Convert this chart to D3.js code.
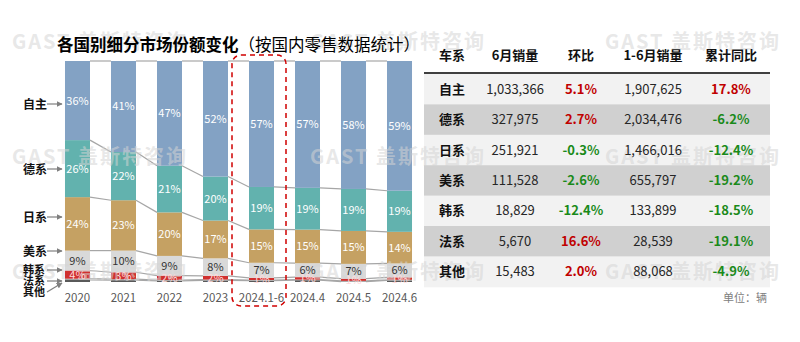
<!DOCTYPE html>
<html><head><meta charset="utf-8">
<script src="https://cdn.jsdelivr.net/npm/d3@7/dist/d3.min.js"></script>
<style>
html,body{margin:0;padding:0;background:#fff;}
svg{display:block;font-family:"Noto Sans CJK SC","Noto Sans",sans-serif;}
</style></head>
<body>
<svg id="chart" width="800" height="342"></svg>
<script>
// ---------- data ----------
const categories = ["2020","2021","2022","2023","2024.1-6","2024.4","2024.5","2024.6"];
const seriesNames = ["自主","德系","日系","美系","韩系","法系","其他"];
const shareZizhu = [35.8, 41.2, 47.4, 52.3, 57.0, 57.4, 57.9, 58.7];
const shareDe    = [25.8, 21.8, 21.1, 19.9, 19.2, 18.9, 19.0, 18.6];
const shareRi    = [24.2, 22.8, 19.7, 17.1, 15.1, 15.2, 14.9, 14.3];
const shareMei   = [9.0, 9.8, 8.9, 7.9, 6.8, 6.3, 6.7, 6.3];
const shareHan   = [3.7, 3.1, 2.0, 1.7, 1.0, 1.1, 1.0, 1.1];
const shareFa    = [0.6, 0.5, 0.4, 0.4, 0.3, 0.3, 0.3, 0.3];
const shareQita  = [0.9, 0.8, 0.5, 0.7, 0.6, 0.8, 0.2, 0.7];

const tableHeaders = ["车系","6月销量","环比","1-6月销量","累计同比"];
const tableRows = ["自主","德系","日系","美系","韩系","法系","其他"];
const juneSales = [1033366, 327975, 251921, 111528, 18829, 5670, 15483];
const momChange = [5.1, 2.7, -0.3, -2.6, -12.4, 16.6, 2.0];
const ytdSales  = [1907625, 2034476, 1466016, 655797, 133899, 28539, 88068];
const yoyChange = [17.8, -6.2, -12.4, -19.2, -18.5, -19.1, -4.9];

// ---------- setup ----------
const svg = d3.select("#chart");
const gBack = svg.append("g");
const gWM = svg.append("g").attr("pointer-events","none");
const gFront = svg.append("g");

const seriesValues = {"自主":shareZizhu,"德系":shareDe,"日系":shareRi,"美系":shareMei,"韩系":shareHan,"法系":shareFa,"其他":shareQita};
const colors = {"自主":"#83a2c4","德系":"#62b2ae","日系":"#c5a163","美系":"#d9d9d9","韩系":"#d0302f","法系":"#a6a6a6","其他":"#595959"};
const labelColors = {"自主":"#ffffff","德系":"#ffffff","日系":"#ffffff","美系":"#333333","韩系":"#ffd9d9"};

const rows = categories.map((c,i)=>{ const o={cat:c}; seriesNames.forEach(s=>o[s]=seriesValues[s][i]); return o; });
const stackKeys = seriesNames.slice().reverse(); // bottom: 其他 ... top: 自主
const stacked = d3.stack().keys(stackKeys)(rows);

const x = d3.scaleBand().domain(categories).range([54.5, 422.5]).paddingInner(0.4565).paddingOuter(0.228);
const y = d3.scaleLinear().domain([0,100]).range([282, 61]);

// connectors (between bars at each cumulative boundary)
const gConn = gBack.append("g");
stacked.forEach(layer=>{
  for(let i=0;i<categories.length-1;i++){
    gConn.append("line")
      .attr("x1", x(categories[i]) + x.bandwidth()).attr("x2", x(categories[i+1]))
      .attr("y1", y(layer[i][1])).attr("y2", y(layer[i+1][1]))
      .attr("stroke","#a6a6a6").attr("stroke-width",1.2);
  }
});

// bars
const gBars = gBack.append("g");
stacked.forEach(layer=>{
  gBars.append("g").attr("fill", colors[layer.key])
    .selectAll("rect").data(layer).join("rect")
    .attr("x", d=>x(d.data.cat)).attr("width", x.bandwidth())
    .attr("y", d=>y(d[1])).attr("height", d=>y(d[0])-y(d[1]));
});

// segment labels
const labelSeries = ["自主","德系","日系","美系","韩系"];
stacked.filter(l=>labelSeries.includes(l.key)).forEach(layer=>{
  gFront.append("g").selectAll("text").data(layer).join("text")
    .attr("x", d=>x(d.data.cat)+x.bandwidth()/2)
    .attr("y", d=>(y(d[0])+y(d[1]))/2)
    .attr("dy","0.36em")
    .attr("text-anchor","middle")
    .attr("font-size", 11)
    .attr("fill", labelColors[layer.key])
    .text(d=>Math.round(d.data[layer.key])+"%");
});

// x-axis labels
gFront.append("g").selectAll("text").data(categories).join("text")
  .attr("x", d=>x(d)+x.bandwidth()/2).attr("y", 298).attr("dy","0.36em")
  .attr("text-anchor","middle").attr("font-size",11.5).attr("fill","#595959")
  .text(d=>d);

// dashed highlight box
gFront.append("rect").attr("x",232).attr("y",55).attr("width",54).attr("height",251)
  .attr("rx",9).attr("fill","none").attr("stroke","#d00000").attr("stroke-width",1.5)
  .attr("stroke-dasharray","5,4");

// left series annotations
const defs = svg.append("defs");
defs.append("marker").attr("id","arr").attr("viewBox","0 0 10 10").attr("refX",9).attr("refY",5)
  .attr("markerWidth",5).attr("markerHeight",5).attr("orient","auto")
  .append("path").attr("d","M0,0L10,5L0,10z").attr("fill","#7f7f7f");
const annY = [104, 169, 217, 251, 270, 281, 292];
const annTarget = [104, 169, 217, 251, 270, 281, 283];
const gAnn = gFront.append("g");
seriesNames.forEach((s,i)=>{
  gAnn.append("text").attr("x",23).attr("y",annY[i]).attr("dy","0.38em")
    .attr("font-size",i>=4?11:12).attr("font-weight","bold").attr("fill","#111").text(s);
  gAnn.append("line").attr("x1",47).attr("y1",annY[i]).attr("x2",62).attr("y2",annTarget[i])
    .attr("stroke","#7f7f7f").attr("stroke-width",1.2).attr("marker-end","url(#arr)");
});

// title
const title = gFront.append("text").attr("x",57).attr("y",51).attr("font-size",16.5).attr("fill","#000");
title.append("tspan").attr("font-weight","bold").text("各国别细分市场份额变化");
title.append("tspan").attr("font-weight","normal").text("（按国内零售数据统计）");

// ---------- table ----------
const colX = [452, 515, 581, 653, 731];
const rowTop = 74, rowH = 30.4, tLeft = 424, tRight = 770;
gBack.append("g").selectAll("rect").data(tableRows).join("rect")
  .attr("x",tLeft).attr("width",tRight-tLeft)
  .attr("y",(d,i)=>rowTop+i*rowH).attr("height",rowH+0.5)
  .attr("fill",(d,i)=>i%2===0?"#f2f2f2":"#d0d0d0");
const gT = gFront.append("g");
gT.append("line").attr("x1",tLeft).attr("x2",tRight).attr("y1",73).attr("y2",73)
  .attr("stroke","#404040").attr("stroke-width",2.2);
gT.selectAll("text.h").data(tableHeaders).join("text").attr("class","h")
  .attr("x",(d,i)=>colX[i]).attr("y",55).attr("dy","0.36em").attr("text-anchor","middle")
  .attr("font-size",13).attr("font-weight","bold").attr("fill","#111").text(d=>d);
const fmtN = d3.format(",");
const fmtP = v=>v.toFixed(1)+"%";
const pctColor = v=>v>=0?"#c00000":"#1a8a1a";
tableRows.forEach((r,i)=>{
  const cy = rowTop + i*rowH + rowH/2;
  const cells = [
    {t:r, bold:true, fill:"#111"},
    {t:fmtN(juneSales[i]), bold:false, fill:"#262626"},
    {t:fmtP(momChange[i]), bold:true, fill:pctColor(momChange[i])},
    {t:fmtN(ytdSales[i]), bold:false, fill:"#262626"},
    {t:fmtP(yoyChange[i]), bold:true, fill:pctColor(yoyChange[i])}
  ];
  gT.append("g").selectAll("text").data(cells).join("text")
    .attr("x",(d,j)=>colX[j]).attr("y",cy).attr("dy","0.36em").attr("text-anchor","middle")
    .attr("font-size",13).attr("font-weight",d=>d.bold?"bold":"normal").attr("fill",d=>d.fill)
    .text(d=>d.t);
});
gFront.append("text").attr("x",767).attr("y",298).attr("dy","0.36em").attr("text-anchor","end")
  .attr("font-size",11).attr("fill","#808080").text("单位：辆");

// ---------- watermarks (above marks, below texts) ----------
const wmX = [12, 310, 605], wmY = [42, 157, 272];
wmY.forEach(yy=>wmX.forEach(xx=>{
  gWM.append("text").attr("x",xx).attr("y",yy).attr("dy","0.36em")
    .attr("font-size",20).attr("font-weight","bold").attr("letter-spacing",2)
    .attr("fill","#d4d4d4").attr("fill-opacity",0.55).text("GAST 盖斯特咨询");
}));
</script>
</body></html>
